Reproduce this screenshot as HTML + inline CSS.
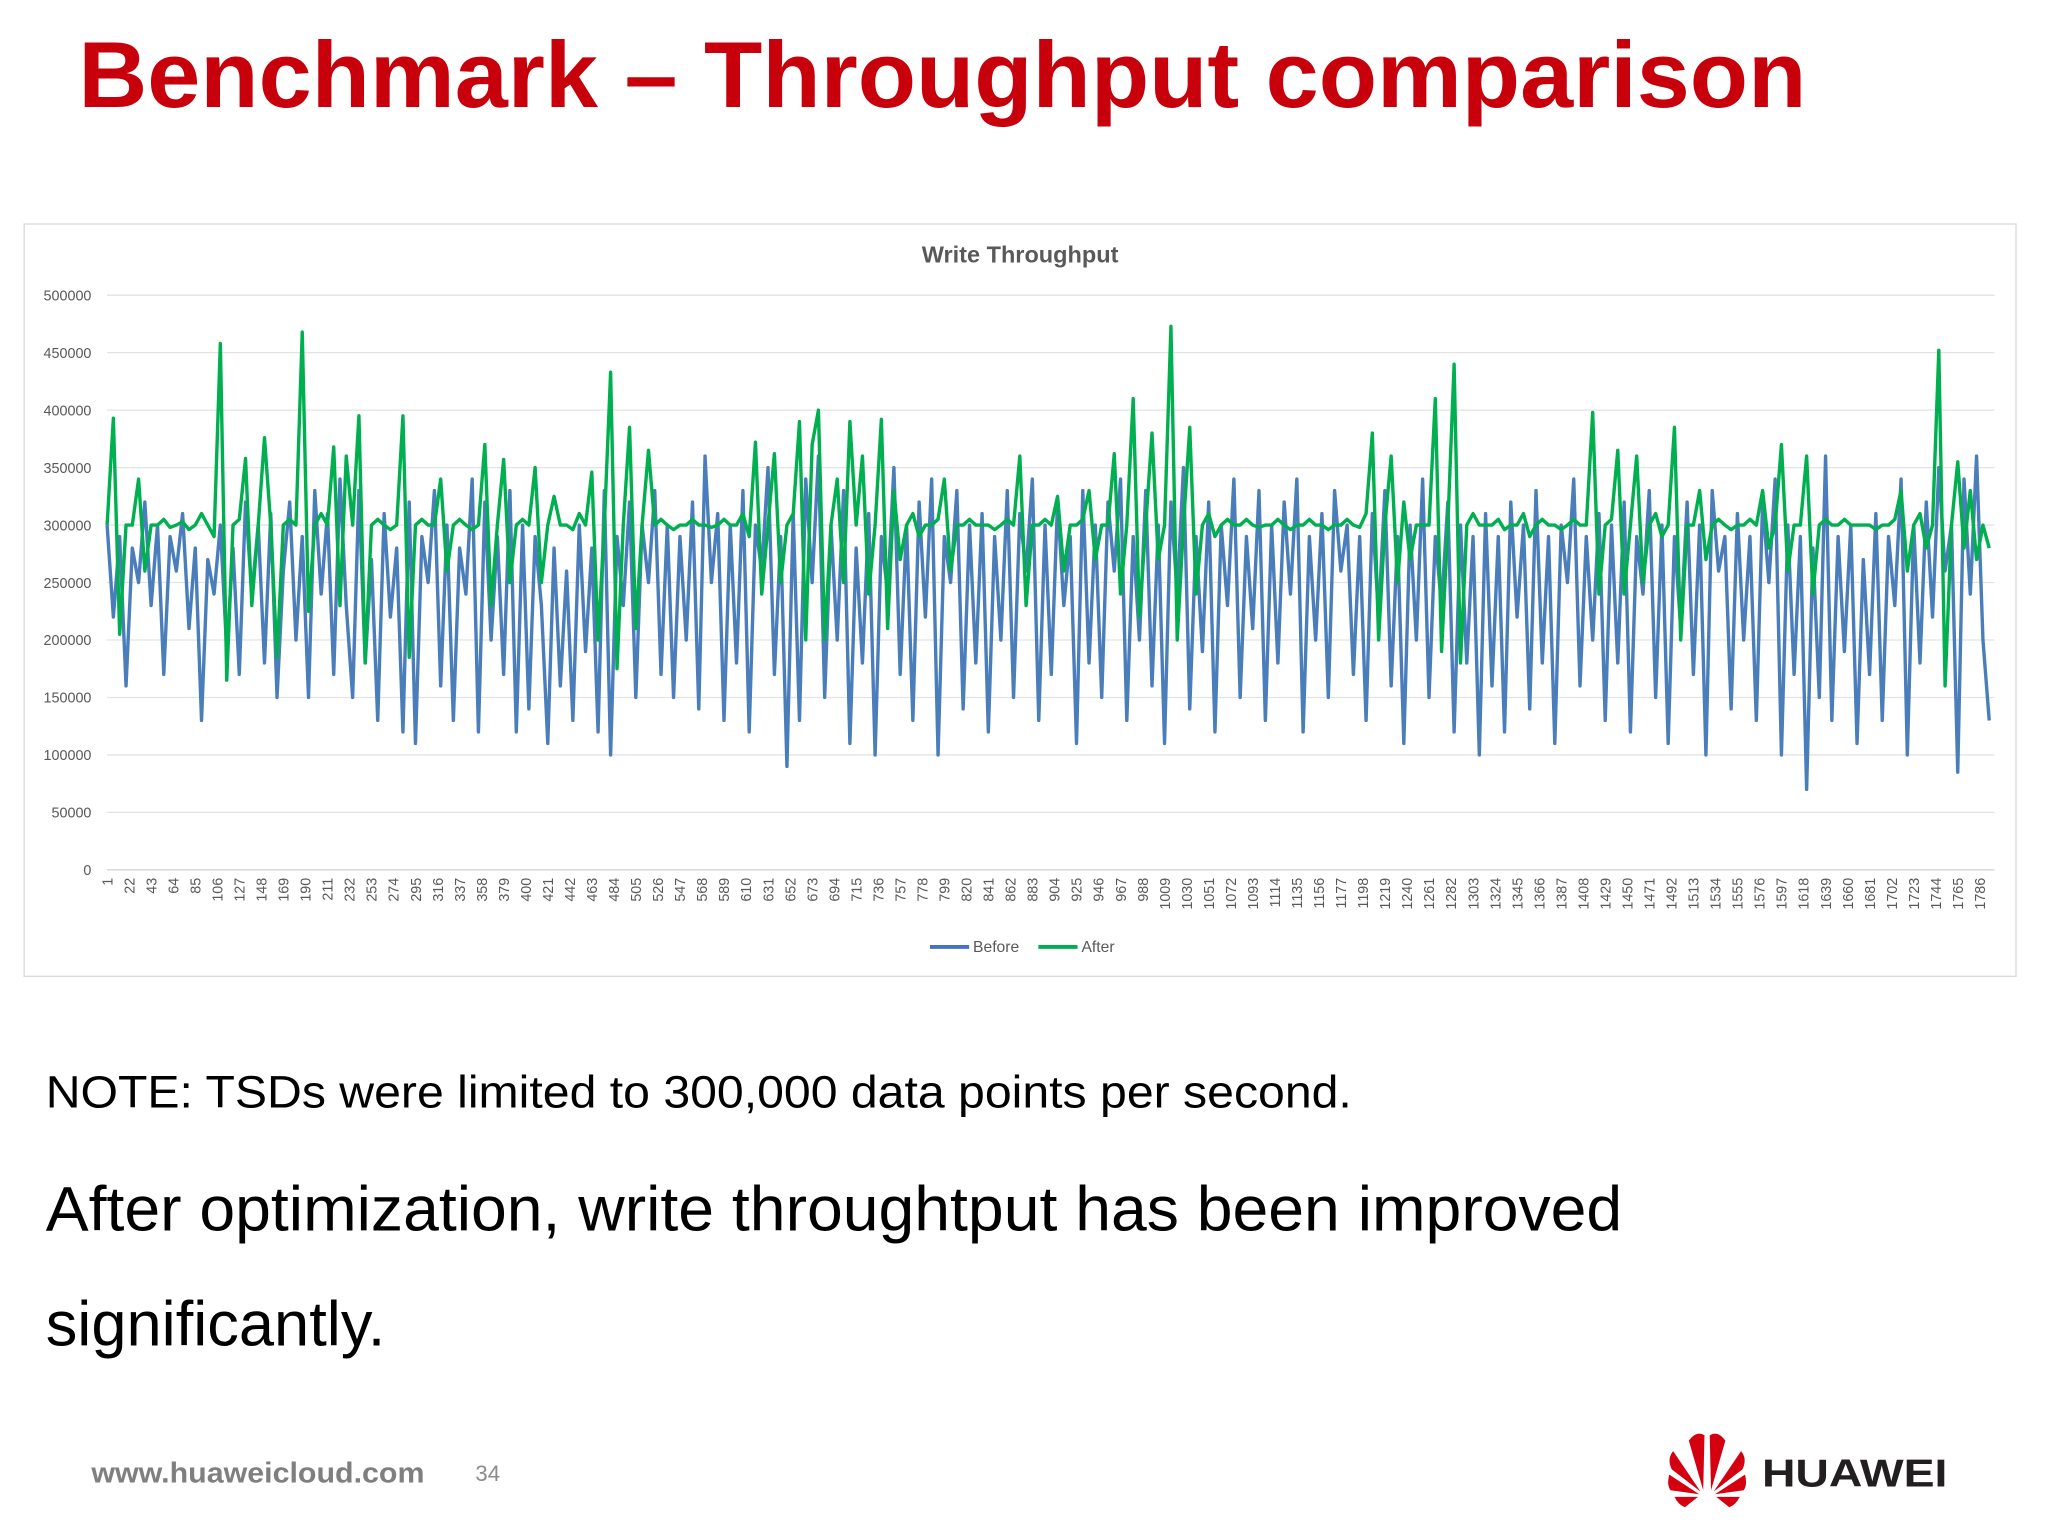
<!DOCTYPE html>
<html><head><meta charset="utf-8"><style>
html,body{margin:0;padding:0;background:#fff}
svg{display:block}
text{font-family:"Liberation Sans",sans-serif}
</style></head><body>
<svg id="s" width="2048" height="1536" viewBox="0 0 1568 1176" xmlns="http://www.w3.org/2000/svg">
<rect width="1568" height="1176" fill="#fff"/>
<text x="60" y="82" font-size="72" font-weight="bold" fill="#c7000b" textLength="1323" lengthAdjust="spacingAndGlyphs">Benchmark – Throughput comparison</text>
<rect x="18.5" y="171.5" width="1525" height="576" fill="#fff" stroke="#d9d9d9"/>
<text x="781" y="201" font-size="18" font-weight="bold" fill="#595959" text-anchor="middle">Write Throughput</text>
<g id="grid"></g><g id="ylab"></g><g id="xlab"></g><g id="lines"></g>
<g>
<line x1="712" y1="725" x2="742" y2="725" stroke="#4472c4" stroke-width="3"/>
<text x="745" y="729" font-size="12" fill="#595959">Before</text>
<line x1="795" y1="725" x2="825" y2="725" stroke="#00b050" stroke-width="3"/>
<text x="828" y="729" font-size="12" fill="#595959">After</text>
</g>
<text x="35" y="848" font-size="35" fill="#000" textLength="1000" lengthAdjust="spacingAndGlyphs">NOTE: TSDs were limited to 300,000 data points per second.</text>
<text x="35" y="942" font-size="48" fill="#000" textLength="1207" lengthAdjust="spacingAndGlyphs">After optimization, write throughtput has been improved</text>
<text x="35" y="1030" font-size="48" fill="#000" textLength="260" lengthAdjust="spacingAndGlyphs">significantly.</text>
<text x="70" y="1135" font-size="22" font-weight="bold" fill="#7f7f7f" textLength="255" lengthAdjust="spacingAndGlyphs">www.huaweicloud.com</text>
<text x="364" y="1134" font-size="17" fill="#8c8c8c">34</text>
<g>
<g transform="translate(1307,1145)" fill="#d4000f">
<path d="M-3,-4 L-14,-42 Q-8,-50 -2,-46 Z"/><path d="M3,-4 L14,-42 Q8,-50 2,-46 Z"/>
<path d="M-5,-3 L-26,-34 Q-31,-28 -27,-20 Z"/><path d="M5,-3 L26,-34 Q31,-28 27,-20 Z"/>
<path d="M-6,-1 L-29,-16 Q-31,-8 -28,-4 Z"/><path d="M6,-1 L29,-16 Q31,-8 28,-4 Z"/>
<path d="M-7,1 L-25,1 Q-22,7 -17,9 Z"/><path d="M7,1 L25,1 Q22,7 17,9 Z"/>
</g>
<text x="1349" y="1138" font-size="30" font-weight="bold" fill="#231f20" textLength="142" lengthAdjust="spacingAndGlyphs">HUAWEI</text>
</g>
</svg>
<script>
const yTicks=[0,50000,100000,150000,200000,250000,300000,350000,400000,450000,500000];
const xStart=1, xStep=21, xEnd=1786;
const sampleStep=6;
const beforeK=[300,220,290,160,280,250,320,230,300,170,290,260,310,210,280,130,270,240,300,190,
280,170,320,240,300,180,310,150,260,320,200,290,150,330,240,310,170,340,230,150,
330,180,270,130,310,220,280,120,320,110,290,250,330,160,300,130,280,240,340,120,
320,200,290,170,330,120,300,140,290,230,110,280,160,260,130,300,190,280,120,330,
100,290,230,320,150,300,250,330,170,300,150,290,200,320,140,360,250,310,130,300,
180,330,120,300,260,350,170,290,90,310,130,340,250,360,150,300,200,330,110,280,
180,310,100,290,240,350,170,300,130,320,220,340,100,290,250,330,140,300,180,310,
120,290,200,330,150,310,260,340,130,300,170,320,230,290,110,330,180,300,150,320,
260,340,130,290,200,330,160,300,110,320,240,350,140,290,190,320,120,300,230,340,
150,290,210,330,130,300,180,320,240,340,120,290,200,310,150,330,260,300,170,290,
130,310,220,330,160,290,110,300,200,340,150,290,230,320,120,300,180,290,100,310,
160,290,120,320,220,300,140,330,180,290,110,300,250,340,160,290,200,310,130,300,
180,320,120,290,240,330,150,300,110,290,210,320,170,300,100,330,260,290,140,310,
200,290,130,320,250,340,100,300,170,290,70,280,150,360,130,290,190,300,110,270,
170,310,130,290,230,340,100,300,180,320,220,350,260,300,85,340,240,360,200,130];
const afterK=[300,393,205,300,300,340,260,300,300,305,298,300,303,296,300,310,300,290,458,165,
300,305,358,230,300,376,300,185,300,305,300,468,225,300,310,300,368,230,360,300,
395,180,300,305,300,296,300,395,185,300,305,300,300,340,260,300,305,300,296,300,
370,230,300,357,250,300,305,300,350,250,300,325,300,300,296,310,300,346,200,300,
433,175,300,385,210,300,365,300,305,300,296,300,300,305,300,300,298,300,305,300,
300,310,290,372,240,300,362,250,300,310,390,200,370,400,200,300,340,250,390,300,
360,240,300,392,210,330,270,300,310,290,300,300,305,340,260,300,300,305,300,300,
300,296,300,305,300,360,230,300,300,305,300,325,260,300,300,305,330,270,300,300,
362,240,300,410,220,300,380,270,300,473,200,300,385,240,300,310,290,300,305,300,
300,305,300,298,300,300,305,300,296,300,300,305,300,300,296,300,300,305,300,298,
310,380,200,300,360,250,320,270,300,300,300,410,190,300,440,180,300,310,300,300,
300,305,296,300,300,310,290,300,305,300,300,296,300,305,300,300,398,240,300,305,
365,240,300,360,250,300,310,290,300,385,200,300,300,330,270,300,305,300,296,300,
300,305,300,330,280,300,370,260,300,300,360,240,300,305,300,300,305,300,300,300,
300,296,300,300,305,330,260,300,310,280,300,452,160,300,355,280,330,270,300,280];
const NS="http://www.w3.org/2000/svg";
const X0=82,X1=1527,Y0=666,Y1=226,NMAX=1800;
const xS=i=>X0+(i-1)/(NMAX-1)*(X1-X0);
const yS=v=>Y0-v/500000*(Y0-Y1);
function mk(tag,attrs,parent){const e=document.createElementNS(NS,tag);for(const k in attrs)e.setAttribute(k,attrs[k]);parent.appendChild(e);return e;}
const grid=document.getElementById('grid'),ylab=document.getElementById('ylab'),xlab=document.getElementById('xlab'),lines=document.getElementById('lines');
yTicks.forEach(v=>{
 const l=mk('line',{x1:X0,x2:X1,y1:yS(v),y2:yS(v),stroke:v===0?'#d0d0d0':'#e3e3e3','stroke-width':1},grid);
 
 
 const t=mk('text',{x:70,y:yS(v)+4,'font-size':11,fill:'#595959','text-anchor':'end'},ylab);
 t.textContent=v;
 
 
});
for(let n=xStart;n<=xEnd;n+=xStep){
 const x=xS(n);
 const t=mk('text',{x:0,y:0,'font-size':11,fill:'#595959','text-anchor':'end',transform:`translate(${x+4},672) rotate(-90)`},xlab);
 t.textContent=n;
 
 
}
function series(arr,color,name){
 const pts=arr.map((v,i)=>xS(1+i*sampleStep).toFixed(1)+','+yS(v*1000).toFixed(1)).join(' ');
 const p=mk('polyline',{points:pts,fill:'none',stroke:color,'stroke-width':2.6,'stroke-linejoin':'round'},lines);
 
 
}
series(beforeK,'#4a7ebb','before-line');
series(afterK,'#00b050','after-line');
</script>
</body></html>
